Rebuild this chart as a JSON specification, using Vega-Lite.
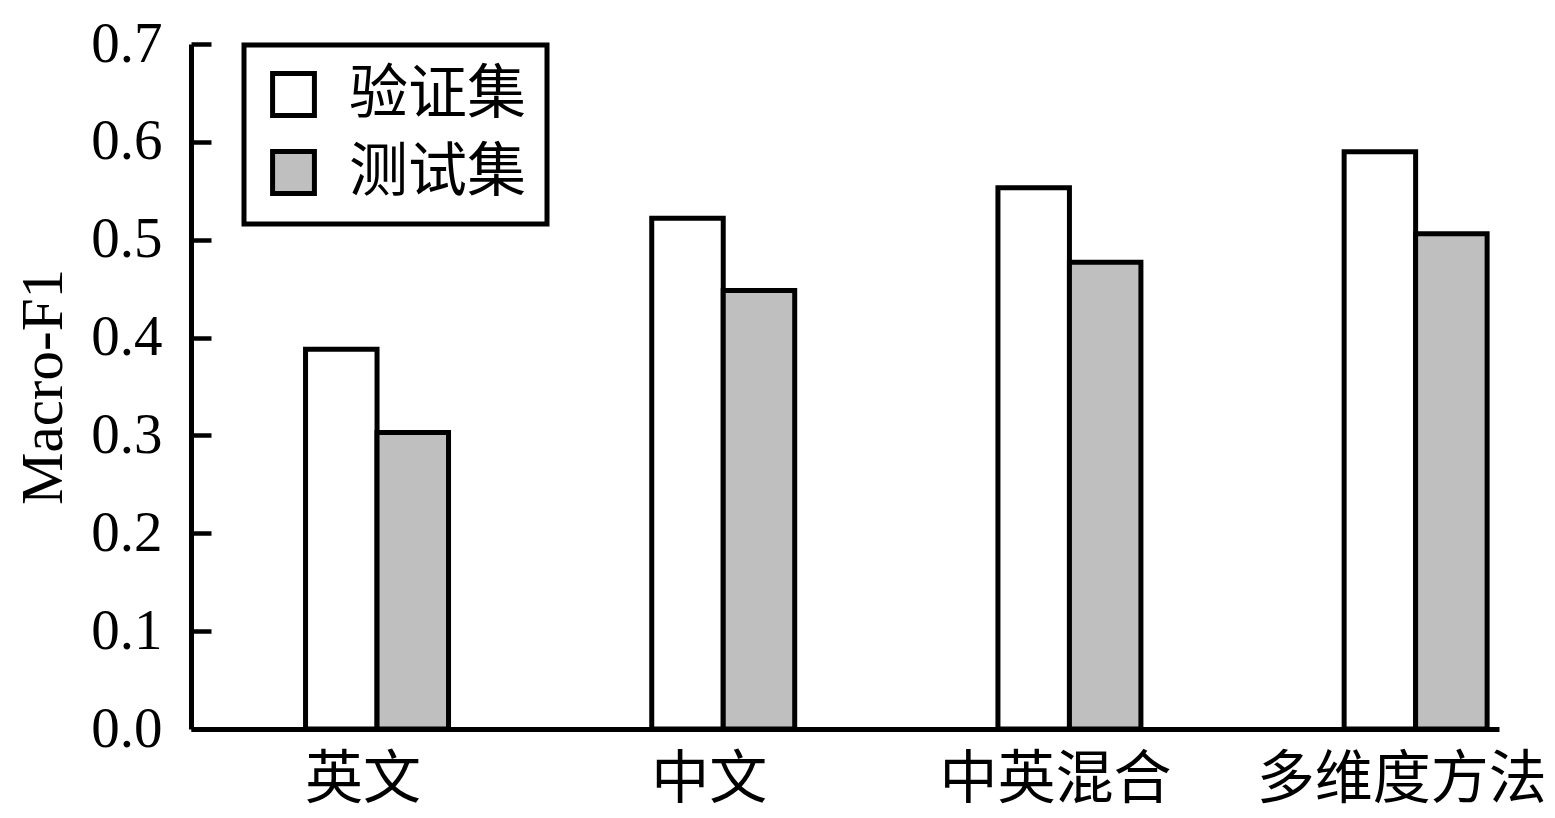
{
  "$schema": "https://vega.github.io/schema/vega-lite/v6.json",
  "width": 1308,
  "height": 685,
  "autosize": "none",
  "padding": {"left": 191, "top": 44, "right": 56, "bottom": 89},
  "background": "white",
  "data": {
    "values": [
      {"方法": "英文", "数据集": "验证集", "value": 0.388},
      {"方法": "英文", "数据集": "测试集", "value": 0.303},
      {"方法": "中文", "数据集": "验证集", "value": 0.522},
      {"方法": "中文", "数据集": "测试集", "value": 0.448},
      {"方法": "中英混合", "数据集": "验证集", "value": 0.553},
      {"方法": "中英混合", "数据集": "测试集", "value": 0.477},
      {"方法": "多维度方法", "数据集": "验证集", "value": 0.590},
      {"方法": "多维度方法", "数据集": "测试集", "value": 0.506}
    ]
  },
  "mark": {"type": "bar", "stroke": "black", "strokeWidth": 5, "strokeJoin": "miter"},
  "encoding": {
    "x": {
      "field": "方法",
      "type": "nominal",
      "sort": ["英文", "中文", "中英混合", "多维度方法"],
      "scale": {"paddingInner": 0.587, "paddingOuter": 0.1826, "align": 0.906},
      "axis": {
        "title": null,
        "ticks": false,
        "domainWidth": 5,
        "domainColor": "black",
        "labelFont": "Noto Sans CJK SC",
        "labelFontSize": 58,
        "labelAngle": 0,
        "labelPadding": 22,
        "labelOffset": -14,
        "labelLimit": 0,
        "labelOverlap": false,
        "labelColor": "black"
      }
    },
    "xOffset": {
      "field": "数据集",
      "type": "nominal",
      "sort": ["验证集", "测试集"],
      "scale": {"paddingInner": 0, "paddingOuter": 0}
    },
    "y": {
      "field": "value",
      "type": "quantitative",
      "scale": {"domain": [0, 0.7], "nice": false},
      "axis": {
        "values": [0, 0.1, 0.2, 0.3, 0.4, 0.5, 0.6, 0.7],
        "format": ".1f",
        "grid": false,
        "tickSize": -20,
        "tickWidth": 4.5,
        "tickColor": "black",
        "domainWidth": 5,
        "domainColor": "black",
        "labelFont": "Liberation Serif",
        "labelFontSize": 57,
        "labelColor": "black",
        "labelPadding": 49,
        "labelFlush": false,
        "labelOverlap": false,
        "title": "Macro-F1",
        "titleFont": "Liberation Serif",
        "titleFontSize": 59,
        "titleFontWeight": "normal",
        "titleColor": "black",
        "titlePadding": 17
      }
    },
    "fill": {
      "field": "数据集",
      "type": "nominal",
      "sort": ["验证集", "测试集"],
      "scale": {"domain": ["验证集", "测试集"], "range": ["white", "#bfbfbf"]},
      "legend": {
        "orient": "none",
        "legendX": 53,
        "legendY": 1,
        "title": null,
        "symbolType": "square",
        "symbolSize": 1750,
        "symbolStrokeWidth": 5,
        "symbolStrokeColor": "black",
        "symbolOpacity": 1,
        "labelFont": "Noto Sans CJK SC",
        "labelFontSize": 59,
        "labelColor": "black",
        "labelOffset": 26,
        "labelLimit": 0,
        "rowPadding": 15,
        "padding": 20,
        "strokeColor": "black"
      }
    }
  },
  "config": {
    "view": {"stroke": null},
    "legend": {"strokeWidth": 5}
  }
}
